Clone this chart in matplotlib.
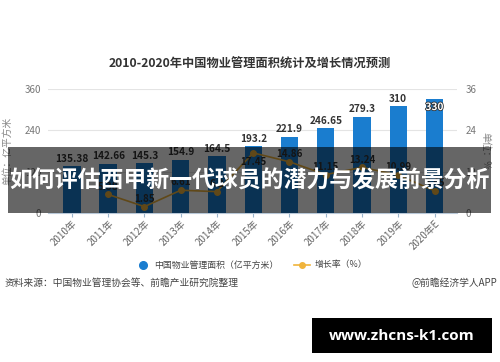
import matplotlib
matplotlib.use("Agg")
import matplotlib.pyplot as plt
from matplotlib.patches import Rectangle
from matplotlib.lines import Line2D
import matplotlib.patheffects as pe

plt.rcParams['font.family'] = ['Noto Sans CJK SC', 'DejaVu Sans']

years = ["2010年", "2011年", "2012年", "2013年", "2014年", "2015年",
         "2016年", "2017年", "2018年", "2019年", "2020年E"]
area = [135.38, 142.66, 145.3, 154.9, 164.5, 193.2, 221.9, 246.65, 279.3, 310, 330]
area_labels = ["135.38", "142.66", "145.3", "154.9", "164.5", "193.2",
               "221.9", "246.65", "279.3", "310", "330"]
growth_idx = [1, 2, 3, 4, 5, 6, 7, 8, 9, 10]
growth = [5.38, 1.85, 6.61, 6.20, 17.45, 14.86, 11.15, 13.24, 10.99, 6.45]
growth_labels = ["5.38", "1.85", "6.61", "6.2", "17.45", "14.86", "11.15", "13.24", "10.99", "6.45"]
left_ticks = [0, 120, 240, 360]
right_ticks = [0, 12, 24, 36]

BLUE = "#1a7dcf"
GOLD = "#f0b43c"

fig = plt.figure(figsize=(5.0, 3.62), dpi=100)
fig.patch.set_facecolor("white")

W, H = 500, 362
def fx(x): return x / W
def fy(y): return 1 - y / H

ax = fig.add_axes([fx(48), fy(213), fx(457) - fx(48), fy(89) - fy(213)])
x = list(range(len(years)))
ax.bar(x, area, width=0.48, color=BLUE, zorder=2)
ax.set_ylim(0, 360)
ax.set_xlim(-0.66, 10.62)
ax.set_yticks(left_ticks)
ax.set_yticklabels([str(t) for t in left_ticks], fontsize=7, color="#777")
ax.grid(axis="y", color="#e4e4e4", linewidth=0.8, zorder=0)
ax.set_axisbelow(True)
for s in ["top", "right", "left"]:
    ax.spines[s].set_visible(False)
ax.spines["bottom"].set_color("#b8c8d8")
ax.tick_params(axis="y", length=0, pad=5)
ax.tick_params(axis="x", length=3, color="#9ab4cc", pad=1)
ax.set_xticks(x)
ax.set_xticklabels(years, rotation=45, ha="right", rotation_mode="anchor",
                   fontsize=7, color="#666")
ax.set_ylabel("单位：亿平方米", fontsize=7, color="#888", labelpad=9)

for i, (v, lab) in enumerate(zip(area, area_labels)):
    if i == len(area) - 1:
        ax.text(i, v - 8, lab, ha="center", va="top", fontsize=7.3, fontweight="bold",
                color="white", zorder=5,
                path_effects=[pe.withStroke(linewidth=1.2, foreground="#333")])
    else:
        ax.text(i, v + 7, lab, ha="center", va="bottom", fontsize=7.3,
                fontweight="bold", color="#333", zorder=5)

ax2 = ax.twinx()
ax2.set_ylim(0, 36)
ax2.set_yticks(right_ticks)
ax2.set_yticklabels([str(t) for t in right_ticks], fontsize=7, color="#777")
for s in ["top", "right", "left", "bottom"]:
    ax2.spines[s].set_visible(False)
ax2.tick_params(axis="y", length=0, pad=6)
ax2.plot(growth_idx, growth, color=GOLD, linewidth=1.2, marker="o",
         markersize=4, zorder=4)
for i, v, lab in zip(growth_idx, growth, growth_labels):
    if lab == "17.45":
        ax2.annotate(lab, (i, v), xytext=(0, -3), textcoords="offset points",
                     ha="center", va="top", fontsize=7, fontweight="bold",
                     color="#333", zorder=5)
    else:
        ax2.annotate(lab, (i, v), xytext=(0, 2), textcoords="offset points",
                     ha="center", va="bottom", fontsize=7, fontweight="bold",
                     color="#333", zorder=5)
ax2.set_ylabel("单位：%", fontsize=7, color="#888", rotation=270, labelpad=10)

# title
fig.text(0.5, fy(64), "2010-2020年中国物业管理面积统计及增长情况预测",
         ha="center", va="center", fontsize=8.8, fontweight="bold", color="#333")

# legend
fig.add_artist(Line2D([fx(143)], [fy(265)], marker="o", markersize=5.5,
                      color=BLUE, linestyle="none"))
fig.text(fx(154), fy(265), "中国物业管理面积（亿平方米）", ha="left", va="center",
         fontsize=6.4, color="#444")
fig.add_artist(Line2D([fx(294), fx(310)], [fy(265), fy(265)], color=GOLD,
                      linewidth=1.2, marker=None))
fig.add_artist(Line2D([fx(302)], [fy(265)], marker="o", markersize=4,
                      color=GOLD, linestyle="none"))
fig.text(fx(315), fy(265), "增长率（%）", ha="left", va="center",
         fontsize=6.4, color="#444")

# source
fig.text(fx(5), fy(283), "资料来源：中国物业管理协会等、前瞻产业研究院整理",
         ha="left", va="center", fontsize=7, color="#444")
fig.text(fx(497), fy(283), "@前瞻经济学人APP", ha="right", va="center",
         fontsize=7, color="#444")

# banner overlay
fig.add_artist(Rectangle((fx(8), fy(213)), fx(491) - fx(8), fy(147) - fy(213),
                         transform=fig.transFigure, facecolor="black",
                         alpha=0.6, edgecolor="none", zorder=20))
fig.text(fx(249), fy(181), "如何评估西甲新一代球员的潜力与发展前景分析",
         ha="center", va="center", fontsize=16.5, fontweight="bold",
         color="white", zorder=21)

# black box watermark
fig.add_artist(Rectangle((fx(312), fy(353)), fx(492) - fx(312), fy(318) - fy(353),
                         transform=fig.transFigure, facecolor="black",
                         edgecolor="none", zorder=20))
fig.text(fx(402), fy(335.5), "www.zhcns-k1.com", ha="center", va="center",
         fontsize=11, fontweight="bold", color="white", zorder=21,
         family=["Open Sans", "DejaVu Sans"])

fig.savefig("out.png", dpi=100, facecolor="white")
